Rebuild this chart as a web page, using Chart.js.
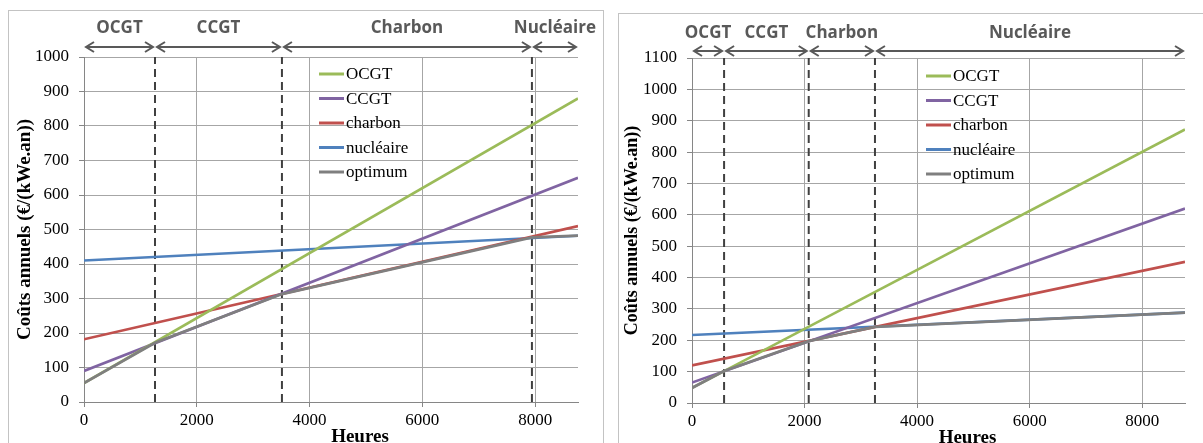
<!DOCTYPE html>
<html>
<head>
<meta charset="utf-8">
<script src="https://cdn.jsdelivr.net/npm/chart.js@4/dist/chart.umd.min.js"></script>
<style>
    body { margin: 0; background: #fff; width: 1203px; height: 443px; overflow: hidden; position: relative; }
    .box { position: absolute; border: 1px solid #c3c3c3; background: #fff; }
    #boxLeft { left: 8px; top: 10px; width: 594px; height: 440px; }
    #boxRight { left: 618px; top: 13px; width: 600px; height: 440px; }
    canvas { position: absolute; }
    #chartLeft { left: 9px; top: 11px; }
    #chartRight { left: 619px; top: 14px; }
</style>
</head>
<body>
<div class="box" id="boxLeft"></div>
<div class="box" id="boxRight"></div>
<canvas id="chartLeft" width="594" height="432"></canvas>
<canvas id="chartRight" width="584" height="429"></canvas>
<script>
const hoursMax = 8760;
const xTicks = [0, 2000, 4000, 6000, 8000];
const seriesNames = ['OCGT', 'CCGT', 'charbon', 'nucléaire', 'optimum'];
const seriesColors = ['#9BBB59', '#8064A2', '#C0504D', '#4F81BD', '#7F7F7F'];
const zoneNames = ['OCGT', 'CCGT', 'Charbon', 'Nucléaire'];

// graphique de gauche
const leftYTicks = [0, 100, 200, 300, 400, 500, 600, 700, 800, 900, 1000];
const leftLineHours = [0, 8760];
const leftOCGT = [55, 880];
const leftCCGT = [90, 650];
const leftCharbon = [182, 510];
const leftNucleaire = [410, 482];
const leftOptimumHours = [0, 1259, 3510, 7943, 8760];
const leftOptimum = [55, 172, 313, 477, 482];
const leftBounds = [0, 1259, 3510, 7943, 8760];

// graphique de droite
const rightYTicks = [0, 100, 200, 300, 400, 500, 600, 700, 800, 900, 1000, 1100];
const rightLineHours = [0, 8760];
const rightOCGT = [48, 872];
const rightCCGT = [65, 620];
const rightCharbon = [120, 450];
const rightNucleaire = [217, 288];
const rightOptimumHours = [0, 570, 2074, 3251, 8760];
const rightOptimum = [48, 102, 197, 243, 288];
const rightBounds = [0, 570, 2074, 3251, 8760];

const serifFamily = "'Liberation Serif', 'Times New Roman', serif";

function toPoints(hours, values) {
    return hours.map((h, i) => ({x: h, y: values[i]}));
}

function drawArrow(ctx, x1, x2, y) {
    const head = 8;
    ctx.beginPath();
    ctx.moveTo(x1, y);
    ctx.lineTo(x2, y);
    ctx.moveTo(x1 + head, y - 5);
    ctx.lineTo(x1, y);
    ctx.lineTo(x1 + head, y + 5);
    ctx.moveTo(x2 - head, y - 5);
    ctx.lineTo(x2, y);
    ctx.lineTo(x2 - head, y + 5);
    ctx.stroke();
}

const decorPlugin = {
    id: 'decor',
    afterDraw(chart, args, opts) {
        const {ctx, chartArea} = chart;
        const x = chart.scales.x;
        ctx.save();

        // zones en haut
        ctx.strokeStyle = '#595959';
        ctx.fillStyle = '#595959';
        ctx.lineWidth = 2;
        ctx.font = 'bold 17px "Open Sans"';
        ctx.textAlign = 'center';
        ctx.textBaseline = 'middle';
        for (let i = 0; i < opts.bounds.length - 1; i++) {
            const x1 = x.getPixelForValue(opts.bounds[i]) + 2;
            const x2 = x.getPixelForValue(opts.bounds[i + 1]) - 2;
            drawArrow(ctx, x1, x2, chartArea.top - opts.arrowGap);
            ctx.fillText(zoneNames[i], (x1 + x2) / 2, chartArea.top - opts.labelGap);
        }

        // legende
        ctx.font = '17px ' + serifFamily;
        ctx.textAlign = 'left';
        ctx.lineWidth = 3;
        seriesNames.forEach((name, i) => {
            const ly = chartArea.top + opts.legendTop + i * opts.legendStep;
            const lx = chartArea.left + opts.legendLeft;
            ctx.strokeStyle = seriesColors[i];
            ctx.beginPath();
            ctx.moveTo(lx, ly);
            ctx.lineTo(lx + 25, ly);
            ctx.stroke();
            ctx.fillStyle = '#000';
            ctx.fillText(name, lx + 27, ly + 1);
        });

        // titre axe x
        ctx.font = 'bold 19px ' + serifFamily;
        ctx.textAlign = 'center';
        ctx.fillText('Heures', (chartArea.left + chartArea.right) / 2 + 29, chartArea.bottom + 35);
        ctx.restore();
    }
};

function initChart(canvasId, yTicks, lines, optimumHours, optimum, bounds, layout) {
    const datasets = lines.map((values, i) => ({
        label: seriesNames[i],
        data: toPoints(layout.lineHours, values),
        borderColor: seriesColors[i],
        borderWidth: 2.6,
        pointRadius: 0,
        order: 1
    }));
    datasets.push({
        label: 'optimum',
        data: toPoints(optimumHours, optimum),
        borderColor: seriesColors[4],
        borderWidth: 2.8,
        pointRadius: 0,
        order: 0
    });
    bounds.slice(1, -1).forEach((h) => {
        datasets.push({
            label: '',
            data: [{x: h, y: 0}, {x: h, y: yTicks[yTicks.length - 1]}],
            borderColor: '#404040',
            borderWidth: 2,
            borderDash: [8, 5],
            pointRadius: 0,
            order: 2
        });
    });

    return new Chart(document.getElementById(canvasId), {
        type: 'line',
        data: {datasets},
        options: {
            responsive: false,
            animation: false,
            layout: {padding: {top: layout.top, right: layout.right, left: 0, bottom: 0}},
            plugins: {
                legend: {display: false},
                tooltip: {enabled: false},
                decor: {
                    bounds,
                    arrowGap: layout.arrowGap,
                    labelGap: layout.labelGap,
                    legendTop: layout.legendTop,
                    legendLeft: layout.legendLeft,
                    legendStep: 24.5
                }
            },
            scales: {
                x: {
                    type: 'linear',
                    min: 0,
                    max: hoursMax,
                    afterBuildTicks: (scale) => { scale.ticks = xTicks.map(v => ({value: v})); },
                    afterFit: (scale) => { scale.height = layout.axisHeight; },
                    grid: {color: '#a6a6a6', tickColor: '#868686', tickLength: 5},
                    border: {color: '#868686'},
                    ticks: {
                        color: '#000', padding: 3, maxRotation: 0,
                        callback: (v) => String(v),
                        font: {family: serifFamily, size: 17}
                    }
                },
                y: {
                    min: 0,
                    max: yTicks[yTicks.length - 1],
                    afterBuildTicks: (scale) => { scale.ticks = yTicks.map(v => ({value: v})); },
                    afterFit: (scale) => { scale.width = layout.axisWidth; },
                    grid: {color: '#a6a6a6', tickColor: '#868686', tickLength: 5},
                    border: {color: '#868686'},
                    ticks: {
                        color: '#000', padding: 10,
                        callback: (v) => String(v),
                        font: {family: serifFamily, size: 17}
                    },
                    title: {
                        display: true,
                        text: 'Coûts annuels (€/(kWe.an))',
                        color: '#000',
                        padding: {top: layout.titlePad, bottom: 0},
                        font: {family: serifFamily, size: layout.titleSize, weight: 'bold'}
                    }
                }
            }
        },
        plugins: [decorPlugin]
    });
}

initChart('chartLeft', leftYTicks,
    [leftOCGT, leftCCGT, leftCharbon, leftNucleaire],
    leftOptimumHours, leftOptimum, leftBounds,
    {lineHours: leftLineHours, top: 46, right: 25, axisWidth: 75, axisHeight: 41,
        arrowGap: 10, labelGap: 29, legendTop: 17, legendLeft: 235, titlePad: 5, titleSize: 19});

initChart('chartRight', rightYTicks,
    [rightOCGT, rightCCGT, rightCharbon, rightNucleaire],
    rightOptimumHours, rightOptimum, rightBounds,
    {lineHours: rightLineHours, top: 44, right: 18, axisWidth: 73, axisHeight: 40,
        arrowGap: 7, labelGap: 25, legendTop: 18, legendLeft: 234, titlePad: 3, titleSize: 18});
</script>
</body>
</html>
